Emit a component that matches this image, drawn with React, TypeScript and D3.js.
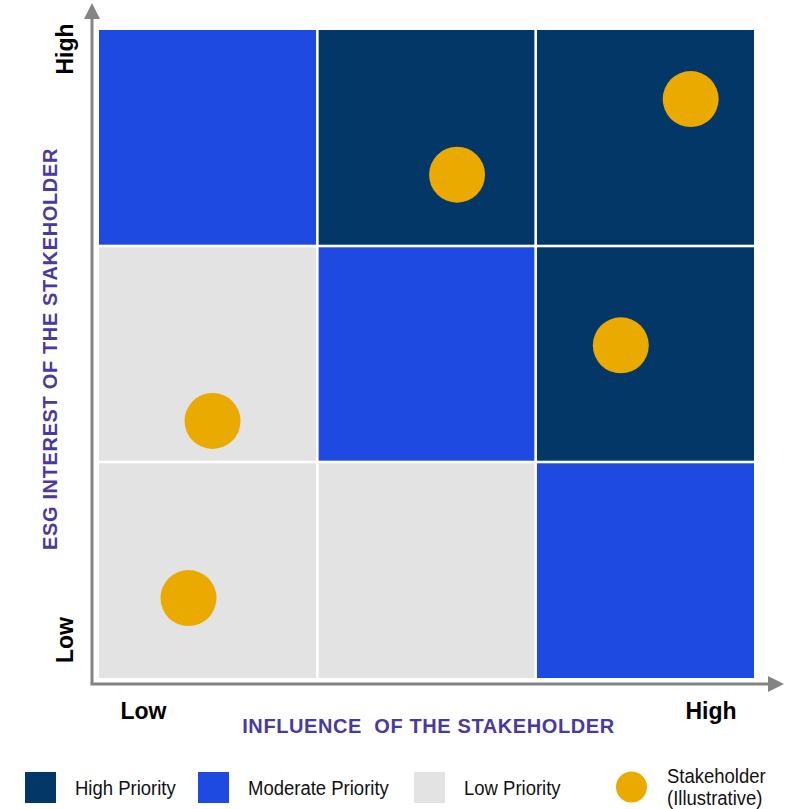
import React from "react";
import * as d3 from "d3";

// Priority grid: rows listed from high interest (top) to low interest (bottom)
const influenceLevels = ["Low", "Medium", "High"];
const interestLevels = ["Low", "Medium", "High"];
const priorityGrid: string[][] = [
  ["Moderate", "High", "High"],
  ["Low", "Moderate", "High"],
  ["Low", "Low", "Moderate"],
];

// Stakeholder positions on a 0–3 influence / interest scale
const stakeholderInfluence = [2.71, 1.64, 2.39, 0.52, 0.41];
const stakeholderInterest = [2.68, 2.33, 1.54, 1.19, 0.37];

const legendItems = ["High Priority", "Moderate Priority", "Low Priority"];
const priorityColors: Record<string, string> = {
  High: "#023767",
  Moderate: "#1f4ae1",
  Low: "#e3e3e3",
};
const gold = "#ebaa00";
const purple = "#483a9e";
const axisGray = "#848484";
const font = "'Liberation Sans', Arial, sans-serif";

export default function App() {
  const width = 790;
  const height = 809;
  const x0 = 99, x1 = 754, y0 = 30, y1 = 678;
  const x = d3.scaleLinear().domain([0, 3]).range([x0, x1]);
  const y = d3.scaleLinear().domain([0, 3]).range([y1, y0]);
  const gap = 1.3;

  const axisX = 92, axisY = 684;

  return (
    <svg
      width={width}
      height={height}
      style={{ position: "absolute", left: 0, top: 0 }}
      fontFamily={font}
    >
      <rect width={width} height={height} fill="#fff" />
      {priorityGrid.map((row, ri) =>
        row.map((p, ci) => {
          const level = 2 - ri;
          return (
            <rect
              key={`${ri}-${ci}`}
              x={x(ci) + (ci > 0 ? gap : 0)}
              y={y(level + 1) + (ri > 0 ? gap : 0)}
              width={x(ci + 1) - x(ci) - (ci > 0 ? gap : 0) - (ci < 2 ? gap : 0)}
              height={y(level) - y(level + 1) - (ri > 0 ? gap : 0) - (ri < 2 ? gap : 0)}
              fill={priorityColors[p]}
            />
          );
        })
      )}
      {stakeholderInfluence.map((v, i) => (
        <circle key={i} cx={x(v)} cy={y(stakeholderInterest[i])} r={28} fill={gold} />
      ))}

      {/* axes with arrowheads */}
      <line x1={axisX} y1={axisY} x2={axisX} y2={16} stroke={axisGray} strokeWidth={3} />
      <path d={`M${axisX},3 L${axisX - 8},19 L${axisX + 8},19 Z`} fill={axisGray} />
      <line x1={axisX - 1.5} y1={axisY} x2={770} y2={axisY} stroke={axisGray} strokeWidth={3} />
      <path d={`M784,${axisY} L768,${axisY - 8} L768,${axisY + 8} Z`} fill={axisGray} />

      {/* axis end labels */}
      <text transform={`translate(73,49) rotate(-90)`} textAnchor="middle" fontSize={23} fontWeight="bold" fill="#000">
        {interestLevels[2]}
      </text>
      <text transform={`translate(73,640) rotate(-90)`} textAnchor="middle" fontSize={23} fontWeight="bold" fill="#000">
        {interestLevels[0]}
      </text>
      <text x={143.5} y={719} textAnchor="middle" fontSize={23} fontWeight="bold" fill="#000">
        {influenceLevels[0]}
      </text>
      <text x={711} y={718.5} textAnchor="middle" fontSize={23} fontWeight="bold" fill="#000">
        {influenceLevels[2]}
      </text>

      {/* axis titles */}
      <text transform={`translate(57,349) rotate(-90)`} textAnchor="middle" fontSize={20} fontWeight="bold" fill={purple} letterSpacing={0.65}>
        ESG INTEREST OF THE STAKEHOLDER
      </text>
      <text x={428.5} y={732.5} textAnchor="middle" fontSize={20} fontWeight="bold" fill={purple} letterSpacing={0.6} style={{ whiteSpace: "pre" }}>
        {"INFLUENCE  OF THE STAKEHOLDER"}
      </text>

      {/* legend */}
      {legendItems.map((label, i) => {
        const lx = [25, 198, 414][i];
        const key = ["High", "Moderate", "Low"][i];
        return (
          <g key={label}>
            <rect x={lx} y={772} width={31} height={31} fill={priorityColors[key]} />
            <text transform={`translate(${lx + 50},794.5) scale(1,1.1)`} fontSize={18.5} fill="#111">
              {label}
            </text>
          </g>
        );
      })}
      <circle cx={631.5} cy={787} r={15.5} fill={gold} />
      <text transform="translate(667,782.5) scale(1,1.05)" fontSize={18.5} fill="#111">Stakeholder</text>
      <text transform="translate(667,804.5) scale(1,1.05)" fontSize={18.5} fill="#111">(Illustrative)</text>
    </svg>
  );
}
